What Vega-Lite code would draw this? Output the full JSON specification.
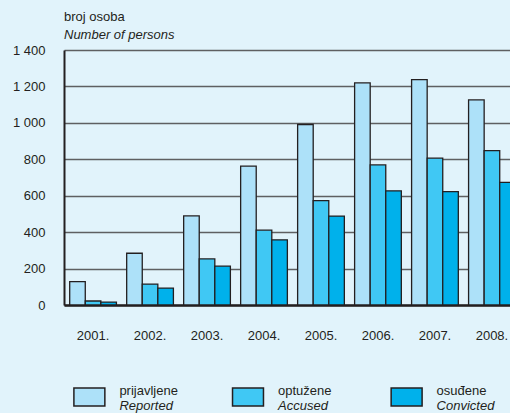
{
  "$schema": "https://vega.github.io/schema/vega-lite/v6.json",
  "background": "#E1F3FB",
  "padding": {"left": 12, "top": 11, "right": 0, "bottom": 0},
  "spacing": 40,
  "config": {
    "view": {"stroke": null},
    "font": "Liberation Sans",
    "axis": {"labelColor": "#231F20", "labelFontSize": 13, "labelFont": "Liberation Sans"}
  },
  "datasets": {
    "bars": [
      {"year": "2001.", "series": "prijavljene", "value": 128},
      {"year": "2001.", "series": "optužene", "value": 22},
      {"year": "2001.", "series": "osuđene", "value": 16},
      {"year": "2002.", "series": "prijavljene", "value": 284},
      {"year": "2002.", "series": "optužene", "value": 115},
      {"year": "2002.", "series": "osuđene", "value": 93},
      {"year": "2003.", "series": "prijavljene", "value": 489},
      {"year": "2003.", "series": "optužene", "value": 253},
      {"year": "2003.", "series": "osuđene", "value": 213},
      {"year": "2004.", "series": "prijavljene", "value": 763},
      {"year": "2004.", "series": "optužene", "value": 411},
      {"year": "2004.", "series": "osuđene", "value": 358},
      {"year": "2005.", "series": "prijavljene", "value": 991},
      {"year": "2005.", "series": "optužene", "value": 573},
      {"year": "2005.", "series": "osuđene", "value": 488},
      {"year": "2006.", "series": "prijavljene", "value": 1219},
      {"year": "2006.", "series": "optužene", "value": 769},
      {"year": "2006.", "series": "osuđene", "value": 627},
      {"year": "2007.", "series": "prijavljene", "value": 1237},
      {"year": "2007.", "series": "optužene", "value": 806},
      {"year": "2007.", "series": "osuđene", "value": 622},
      {"year": "2008.", "series": "prijavljene", "value": 1126},
      {"year": "2008.", "series": "optužene", "value": 848},
      {"year": "2008.", "series": "osuđene", "value": 673}
    ],
    "legend": [
      {"series": "prijavljene", "en": "Reported"},
      {"series": "optužene", "en": "Accused"},
      {"series": "osuđene", "en": "Convicted"}
    ]
  },
  "vconcat": [
    {
      "title": {
        "text": "broj osoba",
        "subtitle": "Number of persons",
        "anchor": "start",
        "frame": "group",
        "fontSize": 13,
        "fontWeight": "normal",
        "font": "Liberation Sans",
        "color": "#231F20",
        "subtitleFont": "Liberation Sans",
        "subtitleFontSize": 13,
        "subtitleFontStyle": "italic",
        "subtitleColor": "#231F20",
        "subtitlePadding": 5,
        "offset": 2
      },
      "width": 457,
      "height": 255,
      "data": {"name": "bars"},
      "mark": {"type": "bar", "stroke": "#231F20", "strokeWidth": 1.3},
      "encoding": {
        "x": {
          "field": "year", "type": "ordinal",
          "scale": {"paddingInner": 0.18, "paddingOuter": 0.1},
          "axis": {"title": null, "labelAngle": 0, "ticks": false, "labelPadding": 24, "domainColor": "#231F20", "domainWidth": 2.5}
        },
        "xOffset": {
          "field": "series", "type": "nominal",
          "sort": ["prijavljene", "optužene", "osuđene"],
          "scale": {"paddingInner": 0, "paddingOuter": 0}
        },
        "y": {
          "field": "value", "type": "quantitative",
          "scale": {"domain": [0, 1400]},
          "axis": {
            "title": null,
            "values": [0, 200, 400, 600, 800, 1000, 1200, 1400],
            "ticks": false,
            "labelPadding": 19,
            "labelExpr": "replace(format(datum.value, ','), ',', ' ')",
            "grid": true,
            "gridColor": "#5E5F61",
            "gridWidth": 1.3,
            "domainColor": "#231F20",
            "domainWidth": 2
          }
        },
        "color": {
          "field": "series", "type": "nominal",
          "scale": {"domain": ["prijavljene", "optužene", "osuđene"], "range": ["#ADE1F9", "#40C8F4", "#00B1EB"]},
          "legend": null
        }
      }
    },
    {
      "width": 368,
      "height": 30,
      "data": {"name": "legend"},
      "encoding": {
        "x": {"field": "series", "type": "nominal", "sort": ["prijavljene", "optužene", "osuđene"], "scale": {"type": "point", "padding": 0.16}, "axis": null}
      },
      "layer": [
        {
          "mark": {"type": "point", "shape": "M-1.72,-1H1.72V1H-1.72Z", "size": 324, "filled": true, "opacity": 1, "stroke": "#231F20", "strokeWidth": 1.5},
          "encoding": {
            "color": {
              "field": "series", "type": "nominal",
              "scale": {"domain": ["prijavljene", "optužene", "osuđene"], "range": ["#ADE1F9", "#40C8F4", "#00B1EB"]},
              "legend": null
            }
          }
        },
        {
          "mark": {"type": "text", "align": "left", "dx": 30, "dy": -6, "fontSize": 13, "color": "#231F20", "font": "Liberation Sans"},
          "encoding": {"text": {"field": "series"}}
        },
        {
          "mark": {"type": "text", "align": "left", "dx": 30, "dy": 9, "fontSize": 13, "fontStyle": "italic", "color": "#231F20", "font": "Liberation Sans"},
          "encoding": {"text": {"field": "en"}}
        }
      ]
    }
  ]
}
